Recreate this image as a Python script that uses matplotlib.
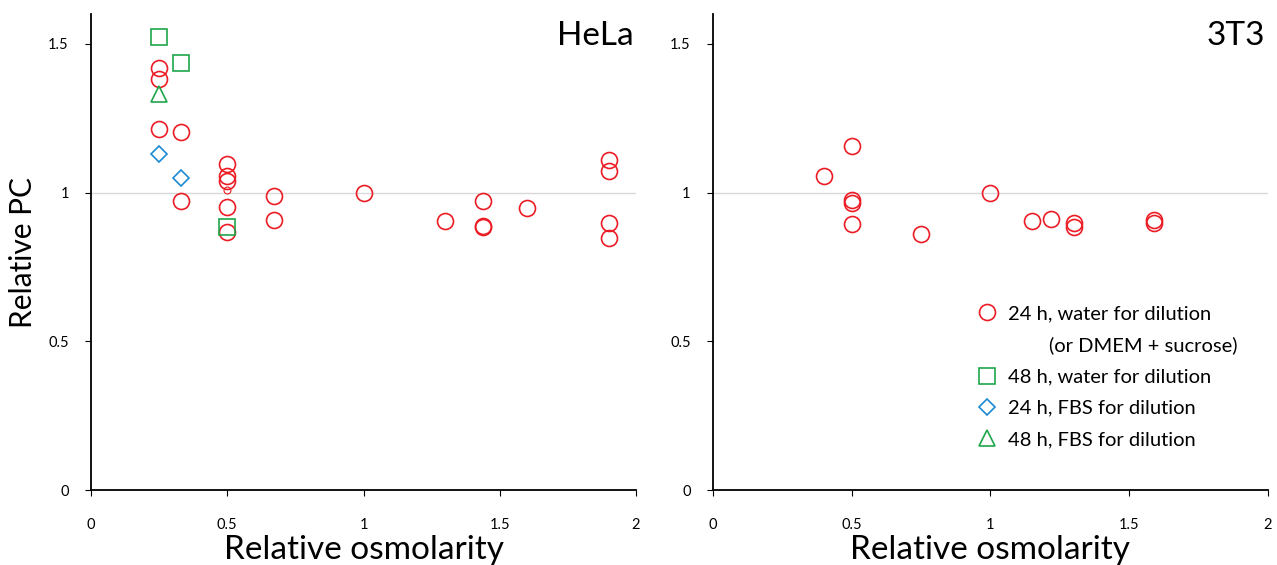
"""Relative PC vs relative osmolarity, HeLa and 3T3 cells."""
import matplotlib
matplotlib.use("Agg")
import matplotlib.pyplot as plt
from matplotlib.lines import Line2D

RED = "#ec1c24"
GREEN = "#1fa64a"
BLUE = "#1b8ad3"

# HeLa
hela_w24_x = [0.25, 0.25, 0.25, 0.33, 0.33, 0.5, 0.5, 0.5, 0.5, 0.5,
              0.67, 0.67, 1.0, 1.3, 1.44, 1.44, 1.44, 1.6, 1.9, 1.9, 1.9, 1.9]
hela_w24_y = [1.42, 1.38, 1.215, 1.205, 0.973, 1.097, 1.054, 1.04, 0.95, 0.866,
              0.987, 0.909, 1.0, 0.903, 0.973, 0.886, 0.883, 0.948, 1.109, 1.074, 0.897, 0.848]
hela_small_x = [0.5]
hela_small_y = [1.007]
hela_w48_x = [0.25, 0.33, 0.5]
hela_w48_y = [1.523, 1.436, 0.883]
hela_f24_x = [0.25, 0.33]
hela_f24_y = [1.128, 1.05]
hela_f48_x = [0.25]
hela_f48_y = [1.332]

# 3T3
t3_w24_x = [0.4, 0.5, 0.5, 0.5, 0.5, 0.75, 1.0, 1.15, 1.22, 1.3, 1.3, 1.59, 1.59]
t3_w24_y = [1.054, 1.158, 0.975, 0.964, 0.895, 0.861, 1.0, 0.903, 0.912, 0.897, 0.884, 0.908, 0.897]

xticks = [0, 0.5, 1, 1.5, 2]
xticklabels = ["0", "0.5", "1", "1.5", "2"]
yticks = [0, 0.5, 1, 1.5]
yticklabels = ["0", "0.5", "1", "1.5"]

plt.rcParams["font.family"] = ["Lato", "DejaVu Sans"]

fig = plt.figure(figsize=(12.77, 5.65), dpi=100)
ax1 = fig.add_axes([0.0713, 0.1327, 0.4268, 0.8425])
ax2 = fig.add_axes([0.5583, 0.1327, 0.4346, 0.8425])

mk = dict(linestyle="none", markerfacecolor="none", markersize=11.5, markeredgewidth=1.2)
dmk = dict(linestyle="none", markerfacecolor="none", markersize=8, markeredgewidth=1.2)

ax1.plot(hela_w24_x, hela_w24_y, marker="o", color=RED, **mk)
ax1.plot(hela_small_x, hela_small_y, marker="o", color=RED, linestyle="none",
         markerfacecolor="none", markersize=5, markeredgewidth=0.8)
ax1.plot(hela_w48_x, hela_w48_y, marker="s", color=GREEN, **mk)
ax1.plot(hela_f24_x, hela_f24_y, marker="D", color=BLUE, **dmk)
ax1.plot(hela_f48_x, hela_f48_y, marker="^", color=GREEN, **mk)

ax2.plot(t3_w24_x, t3_w24_y, marker="o", color=RED, **mk)

for ax, title in [(ax1, "HeLa"), (ax2, "3T3")]:
    ax.axhline(1, color="#d9d9d9", lw=1, zorder=0)
    ax.set_xlim(0, 2)
    ax.set_ylim(0, 1.6)
    ax.set_xticks(xticks, xticklabels)
    ax.set_yticks(yticks, yticklabels)
    ax.tick_params(axis="x", direction="out", length=4, pad=16, labelsize=10.5)
    ax.tick_params(axis="y", direction="out", length=4, pad=12, labelsize=10.5)
    for s in ["top", "right"]:
        ax.spines[s].set_visible(False)
    for s in ["left", "bottom"]:
        ax.spines[s].set_linewidth(1.3)
    ax.set_xlabel("Relative osmolarity", fontsize=24, labelpad=2)
    ax.text(0.995, 0.985, title, transform=ax.transAxes, ha="right", va="top", fontsize=24)

ax1.set_ylabel("Relative PC", fontsize=21.5, labelpad=8)

handles = [
    Line2D([], [], marker="o", color=RED, **mk),
    Line2D([], [], linestyle="none"),
    Line2D([], [], marker="s", color=GREEN, **mk),
    Line2D([], [], marker="D", color=BLUE, **dmk),
    Line2D([], [], marker="^", color=GREEN, **mk),
]
labels = [
    "24 h, water for dilution",
    "        (or DMEM + sucrose)",
    "48 h, water for dilution",
    "24 h, FBS for dilution",
    "48 h, FBS for dilution",
]
ax2.legend(handles, labels, loc="upper left", bbox_to_anchor=(0.462, 0.405),
           frameon=False, fontsize=14.5, handlelength=1.0, handletextpad=0.5,
           labelspacing=0.7, borderaxespad=0)

fig.savefig("out.png", dpi=100)
